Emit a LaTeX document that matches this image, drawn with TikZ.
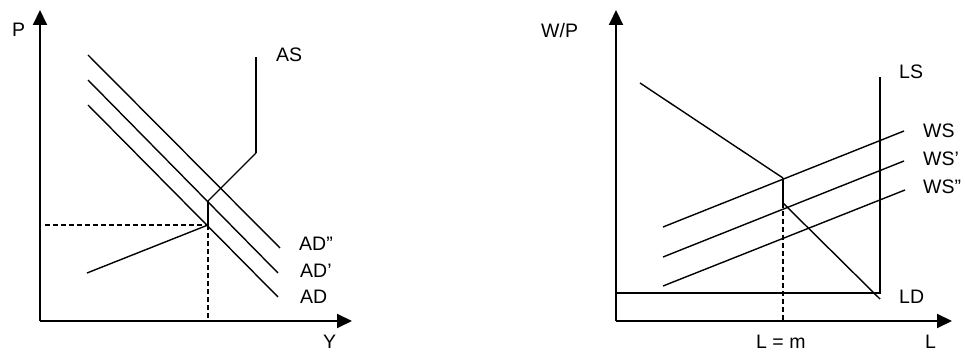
\documentclass[tikz,border=0pt]{standalone}
\usepackage{fontspec}
\setmainfont{Liberation Sans}
\usetikzlibrary{arrows.meta}
\tikzset{
  axis/.style={line width=2pt,-{Triangle[length=15pt,width=14pt]}},
  curve/.style={line width=1.4pt,line join=miter},
  thick curve/.style={line width=1.8pt,line join=miter},
  guide/.style={line width=1.2pt,dash pattern=on 5pt off 3pt},
  lbl/.style={anchor=base west,inner sep=0pt,font=\fontsize{19.5}{23}\selectfont}
}
\begin{document}
\begin{tikzpicture}[x=1pt,y=-1pt]
\useasboundingbox (0,0) rectangle (965,352);
% ---------- left panel ----------
\coordinate (O1) at (40,321);
\coordinate (Ytip1) at (40,10);
\coordinate (Xtip1) at (352,321);
\draw[axis] (O1) -- (Ytip1);
\draw[axis] (O1) -- (Xtip1);
\coordinate (ADa) at (88,105);  \coordinate (ADb) at (278,297);
\coordinate (AD1a) at (88,80);  \coordinate (AD1b) at (278,273);
\coordinate (AD2a) at (88,55);  \coordinate (AD2b) at (280,248);
\draw[curve] (ADa) -- (ADb);
\draw[curve] (AD1a) -- (AD1b);
\draw[curve] (AD2a) -- (AD2b);
\coordinate (AS0) at (87,273);
\coordinate (E1) at (208,225);
\coordinate (E1u) at (208,201);
\coordinate (AS3) at (256,153);
\coordinate (AS4) at (256,57);
\draw[curve] (AS0) -- (E1);
\draw[thick curve] (E1) -- (E1u);
\draw[curve] (E1u) -- (AS3);
\draw[thick curve] (AS3) -- (AS4);
\coordinate (PE1) at (45,225);
\coordinate (YE1) at (208,321);
\draw[guide] (PE1) -- (E1);
\draw[guide] (E1) -- (YE1);
\node[lbl] (P) at (12,37) {P};
\node[lbl] (Y) at (323,348) {Y};
\node[lbl] (ASl) at (276,62) {AS};
\node[lbl] (AD2l) at (299,251) {AD''};
\node[lbl] (AD1l) at (300,277) {AD'};
\node[lbl] (ADl) at (300,303) {AD};
% ---------- right panel ----------
\coordinate (O2) at (616,321);
\coordinate (Ytip2) at (616,10);
\coordinate (Xtip2) at (952,321);
\draw[axis] (O2) -- (Ytip2);
\draw[axis] (O2) -- (Xtip2);
\coordinate (LD0) at (640,83);
\coordinate (E2) at (783,178);
\coordinate (E2d) at (783,203);
\coordinate (LD3) at (880,299);
\draw[curve] (LD0) -- (E2);
\draw[thick curve] (E2) -- (E2d);
\draw[curve] (E2d) -- (LD3);
\coordinate (LS0) at (616,293);
\coordinate (LS1) at (880,293);
\coordinate (LS2) at (880,77);
\draw[curve] (LS0) -- (LS1) -- (LS2);
\coordinate (WSa) at (663,227);  \coordinate (WSb) at (904,131);
\coordinate (WS1a) at (663,257); \coordinate (WS1b) at (904,161);
\coordinate (WS2a) at (663,286); \coordinate (WS2b) at (905,190);
\draw[curve] (WSa) -- (WSb);
\draw[curve] (WS1a) -- (WS1b);
\draw[curve] (WS2a) -- (WS2b);
\coordinate (LE2) at (783,321);
\draw[guide] (E2d) -- (LE2);
\node[lbl] (WP) at (541,38) {W/P};
\node[lbl] (LSl) at (899,79) {LS};
\node[lbl] (WSl) at (923,138) {WS};
\node[lbl] (WS1l) at (923,166) {WS'};
\node[lbl] (WS2l) at (923,194) {WS''};
\node[lbl] (LDl) at (899,303) {LD};
\node[lbl] (Lm) at (756,348) {L = m};
\node[lbl] (L) at (925,348) {L};
\end{tikzpicture}
\end{document}
